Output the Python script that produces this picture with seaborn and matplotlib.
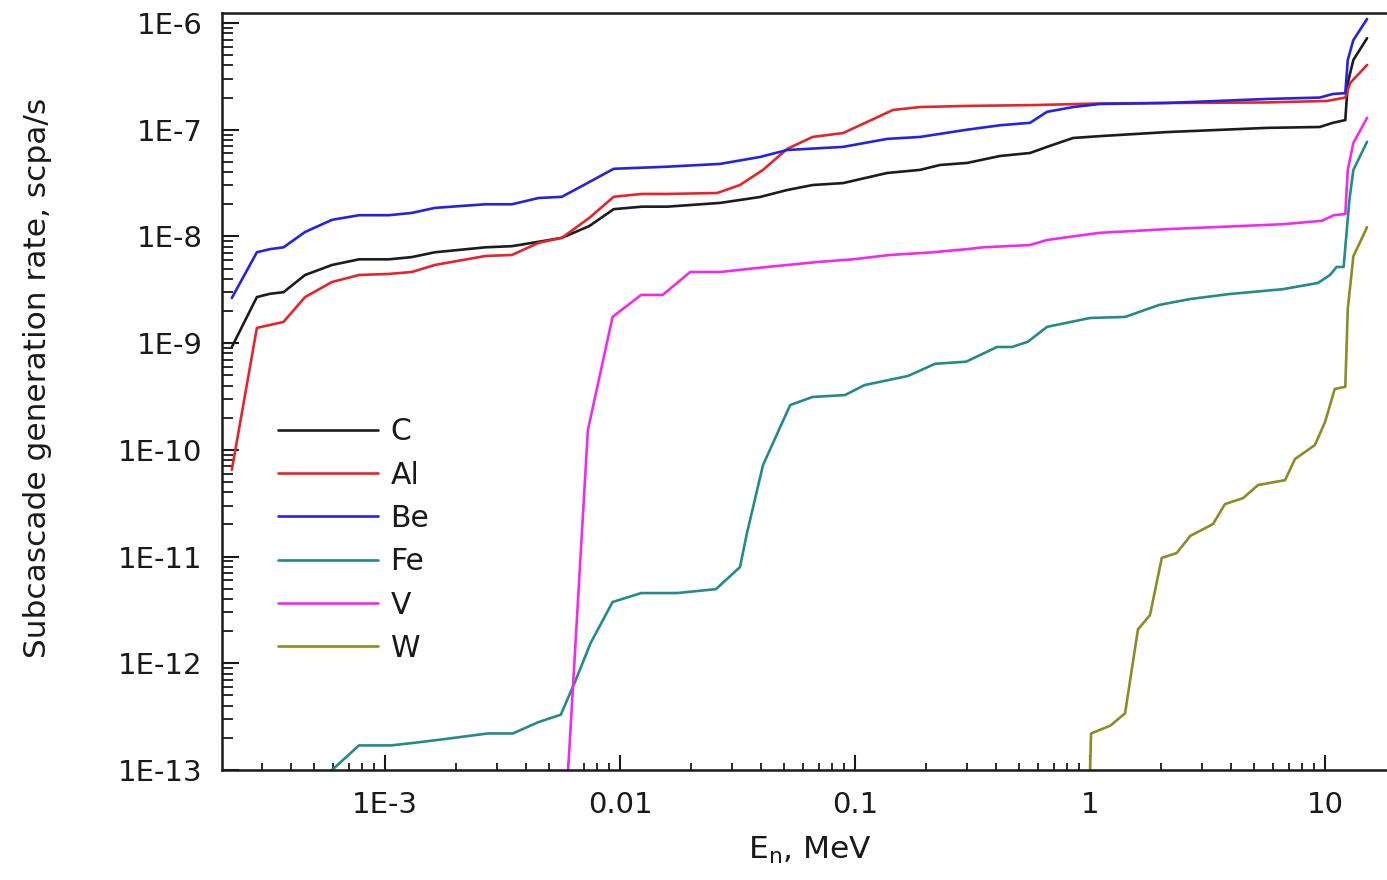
import numpy as np
import pandas as pd
import matplotlib
matplotlib.use("Agg")
import matplotlib.pyplot as plt
import seaborn as sns
from matplotlib.ticker import FixedLocator, FuncFormatter, NullFormatter

# Neutron energy E_n (MeV) and subcascade generation rate (scpa/s) for each material
c_energy = [2.23e-4, 2.85e-4, 3.24e-4, 3.7e-4, 4.57e-4, 5.95e-4, 7.76e-4, 1.04e-3, 1.3e-3,
            1.63e-3, 2.67e-3, 3.47e-3, 4.5e-3, 5.66e-3, 7.4e-3, 9.4e-3, 0.0124, 0.0159, 0.0267,
            0.0394, 0.0514, 0.066, 0.089, 0.137, 0.189, 0.23, 0.30, 0.414, 0.556, 0.656, 0.847,
            1.1, 2.13, 5.67, 9.5, 10.8, 12.2, 12.5, 13.2, 15.1]
c_rate = [9.2e-10, 2.7e-9, 2.9e-9, 3.0e-9, 4.35e-9, 5.4e-9, 6.1e-9, 6.1e-9, 6.4e-9,
          7.1e-9, 7.9e-9, 8.1e-9, 8.9e-9, 9.7e-9, 1.25e-8, 1.8e-8, 1.9e-8, 1.9e-8, 2.06e-8,
          2.34e-8, 2.72e-8, 3.03e-8, 3.16e-8, 3.93e-8, 4.2e-8, 4.67e-8, 4.88e-8, 5.67e-8, 6.05e-8,
          6.9e-8, 8.36e-8, 8.7e-8, 9.5e-8, 1.04e-7, 1.06e-7, 1.16e-7, 1.23e-7, 2.74e-7, 4.5e-7,
          7.2e-7]

al_energy = [2.23e-4, 2.85e-4, 3.24e-4, 3.7e-4, 4.57e-4, 5.95e-4, 7.76e-4, 1.04e-3, 1.3e-3,
             1.63e-3, 2.67e-3, 3.47e-3, 4.5e-3, 5.66e-3, 7.4e-3, 9.4e-3, 0.0124, 0.0159, 0.0259,
             0.0324, 0.0406, 0.0514, 0.066, 0.089, 0.1125, 0.145, 0.189, 0.30, 0.57, 1.1, 2.13,
             5.67, 10.2, 12.2, 12.8, 15.1]
al_rate = [6.5e-11, 1.39e-9, 1.48e-9, 1.58e-9, 2.7e-9, 3.74e-9, 4.35e-9, 4.45e-9, 4.64e-9,
           5.4e-9, 6.55e-9, 6.7e-9, 8.7e-9, 9.7e-9, 1.49e-8, 2.35e-8, 2.5e-8, 2.5e-8, 2.55e-8,
           3.03e-8, 4.2e-8, 6.6e-8, 8.55e-8, 9.3e-8, 1.18e-7, 1.53e-7, 1.63e-7, 1.67e-7, 1.7e-7,
           1.76e-7, 1.78e-7, 1.8e-7, 1.86e-7, 2.0e-7, 2.74e-7, 4.04e-7]

be_energy = [2.23e-4, 2.85e-4, 3.24e-4, 3.7e-4, 4.57e-4, 5.95e-4, 7.76e-4, 1.04e-3, 1.3e-3,
             1.63e-3, 2.67e-3, 3.47e-3, 4.5e-3, 5.66e-3, 7.4e-3, 9.4e-3, 0.0159, 0.0267, 0.0394,
             0.0514, 0.089, 0.137, 0.189, 0.30, 0.414, 0.556, 0.656, 0.847, 1.1, 2.13, 5.67, 9.5,
             10.8, 12.2, 12.5, 13.2, 15.1]
be_rate = [2.65e-9, 7.1e-9, 7.6e-9, 7.9e-9, 1.1e-8, 1.43e-8, 1.58e-8, 1.58e-8, 1.66e-8,
           1.85e-8, 2.0e-8, 2.0e-8, 2.29e-8, 2.35e-8, 3.23e-8, 4.3e-8, 4.5e-8, 4.78e-8, 5.55e-8,
           6.45e-8, 6.9e-8, 8.2e-8, 8.55e-8, 1.0e-7, 1.1e-7, 1.16e-7, 1.47e-7, 1.63e-7, 1.74e-7,
           1.78e-7, 1.94e-7, 2.0e-7, 2.16e-7, 2.2e-7, 4.5e-7, 6.9e-7, 1.09e-6]

fe_energy = [5.8e-4, 7.75e-4, 1.06e-3, 1.34e-3, 1.8e-3, 2.74e-3, 3.5e-3, 4.48e-3, 5.6e-3,
             6.4e-3, 7.5e-3, 9.3e-3, 0.0123, 0.0175, 0.0256, 0.0324, 0.0347, 0.0406, 0.053,
             0.066, 0.0906, 0.11, 0.168, 0.219, 0.297, 0.402, 0.466, 0.544, 0.656, 1.0, 1.41,
             1.97, 2.67, 3.9, 6.6, 9.33, 10.5, 11.2, 12.0, 12.7, 13.2, 15.1]
fe_rate = [9.5e-14, 1.7e-13, 1.7e-13, 1.8e-13, 1.95e-13, 2.2e-13, 2.2e-13, 2.8e-13, 3.3e-13,
           6.5e-13, 1.55e-12, 3.75e-12, 4.55e-12, 4.55e-12, 4.95e-12, 7.97e-12, 1.66e-11,
           7.2e-11, 2.63e-10, 3.13e-10, 3.26e-10, 4.05e-10, 4.92e-10, 6.4e-10, 6.7e-10, 9.2e-10,
           9.2e-10, 1.03e-9, 1.42e-9, 1.72e-9, 1.76e-9, 2.28e-9, 2.59e-9, 2.88e-9, 3.2e-9,
           3.66e-9, 4.35e-9, 5.17e-9, 5.17e-9, 2.2e-8, 4.19e-8, 7.7e-8]

v_energy = [6.0e-3, 7.3e-3, 9.3e-3, 0.0123, 0.0152, 0.0199, 0.0267, 0.0422, 0.069, 0.098,
            0.141, 0.215, 0.30, 0.35, 0.556, 0.656, 0.847, 1.1, 2.13, 6.6, 9.7, 10.9, 12.2,
            12.5, 13.2, 15.1]
v_rate = [9e-14, 1.53e-10, 1.76e-9, 2.83e-9, 2.83e-9, 4.64e-9, 4.64e-9, 5.17e-9, 5.75e-9,
          6.1e-9, 6.7e-9, 7.1e-9, 7.6e-9, 7.9e-9, 8.3e-9, 9.25e-9, 1.0e-8, 1.08e-8, 1.17e-8,
          1.3e-8, 1.4e-8, 1.58e-8, 1.62e-8, 4.2e-8, 7.5e-8, 1.29e-7]

w_energy = [1.0, 1.01, 1.22, 1.41, 1.6, 1.8, 2.02, 2.34, 2.67, 3.34, 3.75, 4.48, 5.19, 6.76,
            7.45, 9.06, 10.0, 11.0, 12.2, 12.5, 13.2, 15.1]
w_rate = [9e-14, 2.2e-13, 2.6e-13, 3.4e-13, 2.08e-12, 2.83e-12, 9.7e-12, 1.08e-11, 1.56e-11,
          2.02e-11, 3.1e-11, 3.53e-11, 4.68e-11, 5.2e-11, 8.2e-11, 1.11e-10, 1.82e-10,
          3.72e-10, 3.9e-10, 2.09e-9, 6.5e-9, 1.22e-8]

materials = ["C", "Al", "Be", "Fe", "V", "W"]
colors = ["#1c1c1c", "#e3262b", "#2424e0", "#248a8a", "#ee2cee", "#8c8c26"]

# Decades that carry a labelled tick on each axis
x_decades = [1e-3, 1e-2, 1e-1, 1.0, 10.0]
y_decades = [1e-13, 1e-12, 1e-11, 1e-10, 1e-9, 1e-8, 1e-7, 1e-6]

series = {
    "C": (c_energy, c_rate),
    "Al": (al_energy, al_rate),
    "Be": (be_energy, be_rate),
    "Fe": (fe_energy, fe_rate),
    "V": (v_energy, v_rate),
    "W": (w_energy, w_rate),
}
df = pd.concat(
    [pd.DataFrame({"energy": e, "rate": r, "material": m}) for m, (e, r) in series.items()],
    ignore_index=True,
)

sns.set_style("ticks")
plt.rcParams["font.family"] = ["DejaVu Sans"]
plt.rcParams["mathtext.fontset"] = "dejavusans"
ink = "#1a1a1a"

fig = plt.figure(figsize=(13.87, 8.8), dpi=100)
ax = fig.add_axes([222 / 1387, 110 / 880, 1172 / 1387, 757 / 880])

sns.lineplot(data=df, x="energy", y="rate", hue="material", hue_order=materials,
             palette=dict(zip(materials, colors)), estimator=None, sort=False,
             linewidth=1.9, ax=ax)

ax.set_xscale("log")
ax.set_yscale("log")
xlim = (2.025e-4, 19.66)
ylim = (1e-13, 1.24e-6)
ax.set_xlim(*xlim)
ax.set_ylim(*ylim)


def origin_label(v, pos):
    e = int(round(np.log10(v)))
    if e < -2:
        return f"1E{e}"
    return f"{v:g}"


def minor_positions(lo, hi):
    out = []
    for d in range(int(np.floor(np.log10(lo))), int(np.ceil(np.log10(hi))) + 1):
        for s in range(2, 10):
            v = s * 10.0 ** d
            if lo <= v <= hi:
                out.append(v)
    return out


ax.xaxis.set_major_locator(FixedLocator(x_decades))
ax.yaxis.set_major_locator(FixedLocator(y_decades))
ax.xaxis.set_minor_locator(FixedLocator(minor_positions(*xlim)))
ax.yaxis.set_minor_locator(FixedLocator(minor_positions(*ylim)))
for axis in (ax.xaxis, ax.yaxis):
    axis.set_major_formatter(FuncFormatter(origin_label))
    axis.set_minor_formatter(NullFormatter())

ax.tick_params(axis="x", which="major", direction="in", length=11, width=1.5,
               pad=15, labelsize=21, color=ink, labelcolor=ink, top=False)
ax.tick_params(axis="x", which="minor", direction="in", length=5, width=1.3,
               color=ink, top=False)
ax.tick_params(axis="y", which="major", direction="in", length=12, width=1.5,
               pad=14, labelsize=21, color=ink, labelcolor=ink, right=False)
ax.tick_params(axis="y", which="minor", direction="in", length=8, width=1.3,
               color=ink, right=False)

for side in ("left", "bottom", "top"):
    ax.spines[side].set_visible(True)
    ax.spines[side].set_linewidth(1.8)
    ax.spines[side].set_color(ink)
ax.spines["right"].set_visible(False)

ax.set_xlabel(r"E$_\mathregular{n}$, MeV", fontsize=22.5, color=ink)
ax.xaxis.label.set_va("baseline")
ax.xaxis.set_label_coords(0.5017, -0.1176)
ax.set_ylabel("Subcascade generation rate, scpa/s", fontsize=22.5, color=ink)
ax.yaxis.label.set_va("center")
ax.yaxis.set_label_coords(-0.157, 0.5185)

old = ax.get_legend()
handles = old.legend_handles
labels = [t.get_text() for t in old.get_texts()]
old.remove()
for h in handles:
    h.set_linewidth(1.9)
ax.legend(handles=handles, labels=labels, loc="upper left",
          bbox_to_anchor=(0.0478, 0.466), frameon=False, fontsize=21.5,
          handlelength=3.35, handletextpad=0.42, labelspacing=0.48,
          borderpad=0, borderaxespad=0, labelcolor=ink)

fig.savefig("out.png", dpi=100)
